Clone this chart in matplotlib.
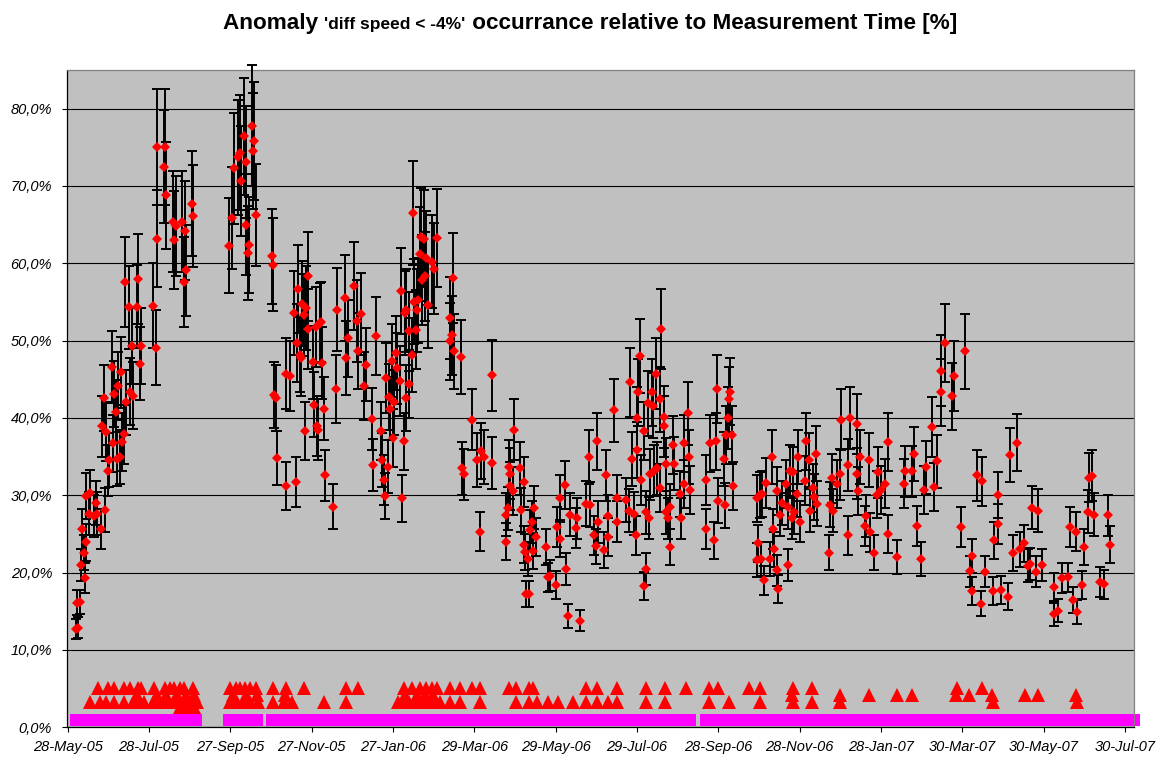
import numpy as np
import pandas as pd
import matplotlib
matplotlib.use("Agg")
import matplotlib.pyplot as plt
import matplotlib.dates as mdates
from matplotlib.ticker import FixedLocator, FuncFormatter
from matplotlib.offsetbox import TextArea, HPacker, AnchoredOffsetbox

plt.rcParams['font.family'] = ['Liberation Sans', 'DejaVu Sans']

start = pd.Timestamp('2005-05-28')

# measurement periods: days after 28-May-05, anomaly share [%], error [%]
day = [
    6, 8, 7, 9, 10, 13, 12, 14, 11, 14,
    17, 16, 21, 20, 22, 25, 28, 30, 31, 26,
    29, 27, 34, 36, 37, 39, 41, 42, 35, 38,
    33, 40, 44, 47, 49, 48, 55, 54, 46, 52,
    43, 53, 64, 66, 67, 67, 73, 72, 74, 79,
    81, 80, 86, 88, 89, 87, 93, 94, 121, 123,
    125, 128, 129, 130, 132, 134, 134, 136, 135, 138,
    140, 139, 141, 153, 154, 155, 156, 157,
    164, 167, 164, 171, 170, 173, 172, 174, 175, 176,
    177, 179, 180, 180, 178, 184, 185, 186, 187, 188,
    189, 190, 191, 192, 193, 199, 201, 202, 208, 209,
    210, 215, 217, 218, 220, 222, 224, 228, 229, 231,
    235, 236, 237, 238, 240, 239, 241, 242, 243, 244,
    245, 246, 247, 249, 250, 252, 251, 253, 254, 254,
    256, 256, 258, 259, 260, 261, 262, 263, 264, 265,
    267, 266, 268, 269, 270, 273, 275, 277, 289, 287,
    288, 287, 290, 295, 303, 296, 297, 307, 310, 312,
    318, 309, 318,
    329, 329, 330, 331, 332, 332, 334, 335, 339, 340,
    342, 342, 343, 344, 346, 345, 347, 348, 349, 350,
    351, 359, 360, 362, 366, 367, 369, 369, 373, 374,
    375, 377, 381, 382, 384, 389, 391, 392, 395, 396,
    398, 397, 402, 404, 405, 405, 410, 412, 412, 419,
    421, 422, 423, 425, 426, 427, 427, 428, 429, 430,
    432, 432, 434, 434, 435, 436, 438, 439, 437, 440,
    441, 442, 444, 444, 445, 447, 447, 449, 449, 450,
    452, 452, 454, 455, 459, 460, 462, 462, 465, 466,
    467, 479, 479,
    482, 486, 485, 487, 488, 492, 493, 494, 495, 496,
    497, 498, 499, 517, 518, 517, 520, 519, 521, 522,
    524, 527, 528, 529, 530, 532, 532, 533, 534, 536,
    539, 540, 540, 542, 543, 544, 545, 547, 548, 549,
    553, 554, 556, 557, 559, 560, 561, 562, 571, 572,
    573, 574, 577, 579, 580, 585, 585, 587, 592, 592,
    594, 593, 599, 598, 601, 602, 605, 607, 608, 610,
    613, 615, 615, 622, 627, 628, 633, 635, 637, 640,
    642, 644, 648, 650, 652, 655, 655, 658, 663, 665,
    673, 670, 678, 677, 678, 682, 686, 685, 688, 694,
    695, 698, 698, 700, 705, 707, 712, 709, 714, 717,
    720, 722, 723, 728, 726, 731, 740, 740, 743, 746,
    750, 752, 756, 754, 757, 761, 762, 766, 768, 765,
    770, 774, 777, 780, 782,
]
pct = [
    12.7, 12.9, 16.1, 16.2, 21.0, 19.3, 22.6, 23.9, 25.6, 29.9,
    30.3, 27.6, 29.0, 27.3, 27.6, 25.6, 28.1, 33.2, 34.6, 38.9,
    38.2, 42.6, 36.7, 40.8, 34.7, 35.0, 36.9, 37.9, 43.1, 44.1,
    46.6, 45.9, 42.0, 43.4, 42.9, 49.3, 49.3, 47.0, 54.3, 54.4,
    57.6, 58.0, 54.5, 49.1, 63.2, 75.0, 75.1, 72.5, 68.8, 65.4,
    64.8, 63.0, 65.4, 64.2, 59.1, 57.6, 67.7, 66.1, 62.3, 65.8,
    72.3, 73.7, 74.3, 70.6, 76.4, 73.1, 65.0, 62.4, 61.3, 77.8,
    75.8, 74.5, 66.3, 60.9, 59.8, 43.0, 42.6, 34.8,
    45.7, 45.4, 31.2, 31.7, 53.6, 56.7, 49.7, 48.2, 47.7, 54.8,
    53.3, 54.2, 58.3, 51.5, 38.3, 47.2, 41.7, 51.8, 39.0, 38.5,
    52.3, 52.4, 47.1, 41.2, 32.6, 28.5, 43.8, 54.0, 55.5, 47.8,
    50.3, 57.1, 52.5, 48.7, 53.4, 44.1, 46.9, 39.9, 33.9, 50.6,
    38.3, 34.6, 32.0, 29.9, 33.7, 45.2, 42.7, 41.2, 47.4, 37.4,
    42.0, 48.4, 46.4, 44.8, 56.4, 37.0, 29.6, 53.6, 53.9, 42.6,
    44.4, 51.2, 48.1, 66.5, 55.0, 51.4, 53.9, 55.2, 61.2, 63.4,
    63.2, 57.8, 58.3, 60.7, 54.6, 60.2, 59.3, 63.3, 58.1, 52.9,
    50.7, 49.9, 48.6, 47.9, 39.8, 33.5, 32.7, 34.6, 35.7, 34.9,
    34.2, 25.3, 45.5,
    27.5, 24.0, 28.3, 33.7, 32.8, 31.2, 30.5, 38.5, 33.5, 28.1,
    31.7, 23.6, 22.7, 17.2, 17.2, 21.8, 25.5, 26.5, 22.8, 28.4,
    24.6, 23.3, 19.4, 19.6, 18.4, 25.9, 29.6, 24.4, 31.3, 20.5,
    14.4, 27.5, 25.8, 27.0, 13.8, 28.9, 35.0, 28.8, 24.8, 23.4,
    26.5, 37.0, 22.9, 32.6, 27.3, 24.6, 41.0, 26.6, 29.6, 29.4,
    28.0, 44.6, 34.7, 27.6, 24.8, 35.9, 40.0, 43.3, 48.0, 32.0,
    38.3, 18.3, 20.5, 27.8, 41.9, 27.1, 43.3, 41.6, 32.7, 33.2,
    45.7, 33.5, 42.4, 31.0, 51.5, 38.9, 40.1, 34.0, 27.8, 27.0,
    23.3, 28.5, 36.5, 34.1, 30.2, 27.0, 36.7, 31.4, 40.6, 35.0,
    30.7, 25.6, 32.0,
    36.7, 37.0, 24.2, 43.8, 29.3, 34.7, 28.7, 37.8, 40.0, 42.4,
    43.4, 37.8, 31.2, 29.6, 23.8, 21.6, 21.7, 30.0, 30.2, 19.0,
    31.6, 21.7, 35.0, 25.6, 23.0, 20.3, 30.5, 17.9, 27.5, 29.0,
    31.4, 21.0, 28.5, 33.2, 27.0, 33.0, 27.8, 30.2, 35.0, 26.6,
    31.9, 37.0, 34.6, 28.0, 30.9, 29.8, 35.4, 28.9, 22.6, 28.8,
    32.2, 28.0, 31.4, 32.7, 39.8, 33.9, 24.8, 40.0, 39.2, 32.8,
    35.0, 30.6, 27.3, 26.0, 34.6, 25.2, 22.6, 30.1, 33.0, 30.7,
    31.5, 25.0, 36.9, 22.0, 31.5, 33.1, 33.1, 35.3, 26.0, 21.8,
    30.7, 33.6, 38.8, 31.1, 34.4, 43.3, 46.1, 49.7, 42.8, 45.4,
    48.6, 25.9, 22.2, 20.2, 17.6, 32.6, 31.8, 16.0, 20.1, 17.6,
    24.2, 30.0, 26.3, 17.7, 16.9, 35.2, 36.8, 22.5, 23.0, 23.8,
    20.9, 21.1, 28.4, 28.0, 20.1, 21.0, 18.1, 14.6, 15.1, 19.3,
    19.4, 25.9, 25.3, 16.5, 14.9, 18.4, 23.3, 32.3, 32.5, 27.9,
    27.5, 18.8, 18.5, 27.4, 23.6,
]
err = [
    1.3, 1.3, 1.6, 1.6, 2.1, 1.9, 2.3, 2.4, 2.6, 3.0,
    3.0, 2.8, 2.9, 2.7, 2.8, 2.6, 2.8, 3.3, 3.5, 3.9,
    3.8, 4.3, 3.7, 4.1, 3.5, 3.5, 3.7, 3.8, 4.3, 4.4,
    4.7, 4.6, 4.2, 4.3, 4.3, 4.9, 4.9, 4.7, 5.4, 5.4,
    5.8, 5.8, 5.5, 4.9, 6.3, 7.5, 7.5, 7.3, 6.9, 6.5,
    6.5, 6.3, 6.5, 6.4, 5.9, 5.8, 6.8, 6.6, 6.2, 6.6,
    7.2, 7.4, 7.4, 7.1, 7.6, 7.3, 6.5, 6.2, 6.1, 7.8,
    7.6, 7.5, 6.6, 6.1, 6.0, 4.3, 4.3, 3.5,
    4.6, 4.5, 3.1, 3.2, 5.4, 5.7, 5.0, 4.8, 4.8, 5.5,
    5.3, 5.4, 5.8, 5.2, 3.8, 4.7, 4.2, 5.2, 3.9, 3.9,
    5.2, 5.2, 4.7, 4.1, 3.3, 2.9, 4.4, 5.4, 5.6, 4.8,
    5.0, 5.7, 5.3, 4.9, 5.3, 4.4, 4.7, 4.0, 3.4, 5.1,
    3.8, 3.5, 3.2, 3.0, 3.4, 4.5, 4.3, 4.1, 4.7, 3.7,
    4.2, 4.8, 4.6, 4.5, 5.6, 3.7, 3.0, 5.4, 5.4, 4.3,
    4.4, 5.1, 4.8, 6.7, 5.5, 5.1, 5.4, 5.5, 6.1, 6.3,
    6.3, 5.8, 5.8, 6.1, 5.5, 6.0, 5.9, 6.3, 5.8, 5.3,
    5.1, 5.0, 4.9, 4.8, 4.0, 3.4, 3.3, 3.5, 3.6, 3.5,
    3.4, 2.5, 4.6,
    2.8, 2.4, 2.8, 3.4, 3.3, 3.1, 3.1, 3.9, 3.4, 2.8,
    3.2, 2.4, 2.3, 1.7, 1.7, 2.2, 2.6, 2.7, 2.3, 2.8,
    2.5, 2.3, 1.9, 2.0, 1.8, 2.6, 3.0, 2.4, 3.1, 2.1,
    1.5, 2.8, 2.6, 2.7, 1.4, 2.9, 3.5, 2.9, 2.5, 2.3,
    2.7, 3.7, 2.3, 3.3, 2.7, 2.5, 4.1, 2.7, 3.0, 2.9,
    2.8, 4.5, 3.5, 2.8, 2.5, 3.6, 4.0, 4.3, 4.8, 3.2,
    3.8, 1.8, 2.1, 2.8, 4.2, 2.7, 4.3, 4.2, 3.3, 3.3,
    4.6, 3.4, 4.2, 3.1, 5.2, 3.9, 4.0, 3.4, 2.8, 2.7,
    2.3, 2.9, 3.7, 3.4, 3.0, 2.7, 3.7, 3.1, 4.1, 3.5,
    3.1, 2.6, 3.2,
    3.7, 3.7, 2.4, 4.4, 2.9, 3.5, 2.9, 3.8, 4.0, 4.2,
    4.3, 3.8, 3.1, 3.0, 2.4, 2.2, 2.2, 3.0, 3.0, 1.9,
    3.2, 2.2, 3.5, 2.6, 2.3, 2.0, 3.1, 1.8, 2.8, 2.9,
    3.1, 2.1, 2.9, 3.3, 2.7, 3.3, 2.8, 3.0, 3.5, 2.7,
    3.2, 3.7, 3.5, 2.8, 3.1, 3.0, 3.5, 2.9, 2.3, 2.9,
    3.2, 2.8, 3.1, 3.3, 4.0, 3.4, 2.5, 4.0, 3.9, 3.3,
    3.5, 3.1, 2.7, 2.6, 3.5, 2.5, 2.3, 3.0, 3.3, 3.1,
    3.2, 2.5, 3.7, 2.2, 3.2, 3.3, 3.3, 3.5, 2.6, 2.2,
    3.1, 3.4, 3.9, 3.1, 3.4, 4.3, 4.6, 5.0, 4.3, 4.5,
    4.9, 2.6, 2.2, 2.0, 1.8, 3.3, 3.2, 1.6, 2.0, 1.8,
    2.4, 3.0, 2.6, 1.8, 1.7, 3.5, 3.7, 2.3, 2.3, 2.4,
    2.1, 2.1, 2.8, 2.8, 2.0, 2.1, 1.8, 1.5, 1.5, 1.9,
    1.9, 2.6, 2.5, 1.7, 1.5, 1.8, 2.3, 3.2, 3.3, 2.8,
    2.8, 1.9, 1.9, 2.7, 2.4,
]

# second series (triangles near the bottom)
tri_day = [
    23, 30, 35, 42, 47, 53, 55, 65, 73, 77, 80, 84, 87, 94,
    122, 126, 129, 133, 137, 141, 154, 164, 177, 209, 218,
    17, 24, 29, 35, 42, 49, 53, 57, 64, 69, 74, 79, 84, 89, 94, 97,
    122, 127, 132, 137, 143, 154, 162, 168, 192, 209, 248,
    52, 67, 74, 82, 89, 95, 124, 134, 142, 163, 84, 90, 95,
    252, 258, 264, 269, 273, 277, 287, 294, 303, 309, 331, 336, 346, 349,
    389, 397, 412, 434, 448, 464, 481, 488, 511, 519,
    251, 256, 261, 266, 271, 276, 279, 287, 294, 309, 336, 346, 352, 360,
    368, 379, 389, 397, 405, 412, 434, 448, 481, 496, 519,
    253, 262, 268, 274, 543,
    544, 558, 667, 686,
    544, 558, 579, 694, 757,
    579, 601, 622, 633, 666, 676, 693, 718, 728, 756,
]
tri_pct = (
    [5.1] * 25 + [3.3] * 27 + [4.2] * 10 + [2.6] * 3
    + [5.1] * 24 + [3.3] * 25 + [4.2] * 5
    + [5.1] * 4 + [3.3] * 5 + [4.2] * 10
)

# third series: continuous coverage blocks (magenta squares)
mag_from = [6, 121, 153, 479]
mag_to = [96, 142, 467, 800]
mag_pct = 0.9

tick_labels = ['28-May-05', '28-Jul-05', '27-Sep-05', '27-Nov-05', '27-Jan-06',
               '29-Mar-06', '29-May-06', '29-Jul-06', '28-Sep-06', '28-Nov-06',
               '28-Jan-07', '30-Mar-07', '30-May-07', '30-Jul-07']


def to_num(days):
    d = start + pd.to_timedelta(np.asarray(days, dtype=float), unit='D')
    return mdates.date2num(d.to_pydatetime())


fig = plt.figure(figsize=(11.6, 7.59), dpi=100)
ax = fig.add_axes([0.0575, 0.0418, 0.9203, 0.866])
ax.set_facecolor('#C0C0C0')

mag_days = np.concatenate([np.arange(a, b + 1) for a, b in zip(mag_from, mag_to)])
ax.plot(to_num(mag_days), np.full(len(mag_days), mag_pct), 's', color='#FF00FF',
        ms=9, mew=0, zorder=2, clip_on=False)

ax.plot(to_num(tri_day), tri_pct, '^', color='#FF0000', ms=9.8, mew=0, zorder=2)

x = to_num(day)
eb = ax.errorbar(x, pct, yerr=err, fmt='none', ecolor='black', elinewidth=1.4,
                 capsize=3.3, capthick=1.4, zorder=3)
for art in list(eb.lines[1]) + list(eb.lines[2]):
    art.set_clip_on(False)
ax.plot(x, pct, 'D', color='#FF0000', ms=5.2, mew=0, zorder=4)

ax.set_ylim(0, 85)
ax.set_xlim(to_num([-0.75])[0], to_num([800])[0])

yt = np.arange(0, 81, 10)
ax.yaxis.set_major_locator(FixedLocator(yt))
ax.yaxis.set_major_formatter(FuncFormatter(lambda v, p: f"{v:.1f}%".replace('.', ',')))
ax.grid(axis='y', color='black', lw=0.8)
ax.set_axisbelow(True)

tick_pos = mdates.date2num(pd.to_datetime(tick_labels, format='%d-%b-%y').to_pydatetime())
ax.set_xticks(tick_pos)
ax.set_xticklabels(tick_labels)

ax.tick_params(axis='both', direction='out', length=3.5, width=0.8, color='black',
               labelsize=10.5)
ax.tick_params(axis='x', pad=6)
ax.tick_params(axis='y', pad=7)
for lab in ax.get_xticklabels() + ax.get_yticklabels():
    lab.set_fontstyle('italic')

ax.spines['left'].set_color('black')
ax.spines['bottom'].set_color('black')
ax.spines['top'].set_color('#808080')
ax.spines['right'].set_color('#808080')
for s in ax.spines.values():
    s.set_linewidth(0.9)

big = dict(fontsize=16.2, fontweight='bold', color='black')
small = dict(fontsize=12.5, fontweight='bold', color='black')
title = HPacker(children=[TextArea("Anomaly ", textprops=big),
                          TextArea("'diff speed < -4%'", textprops=small),
                          TextArea(" occurrance relative to Measurement Time [%]", textprops=big)],
                align='baseline', pad=0, sep=0)
box = AnchoredOffsetbox(loc='upper center', child=title, pad=0, borderpad=0, frameon=False,
                        bbox_to_anchor=(0.5086, 0.983), bbox_transform=fig.transFigure)
fig.add_artist(box)

fig.savefig('out.png', dpi=100)
